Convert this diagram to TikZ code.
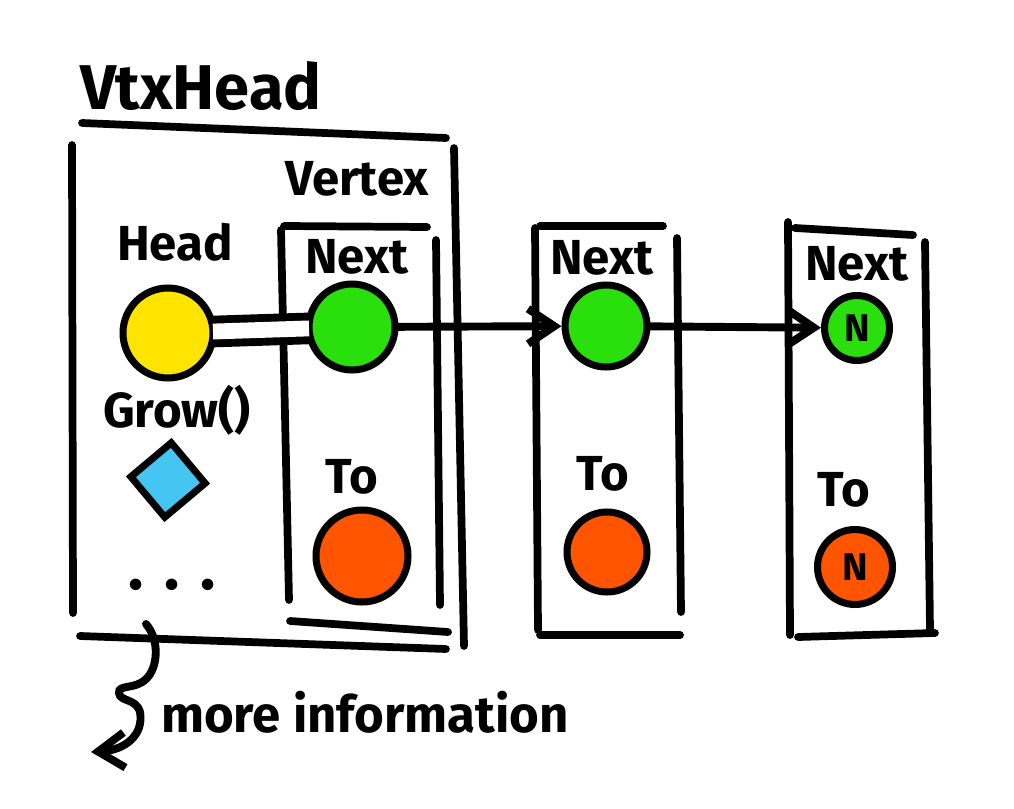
\documentclass[tikz,border=0pt]{standalone}
\usepackage{fontspec}
\setmainfont{Fira Sans}
\usetikzlibrary{arrows.meta,shapes.geometric}
\definecolor{headyellow}{HTML}{FFE400}
\definecolor{nextgreen}{HTML}{2AE00C}
\definecolor{toorange}{HTML}{FF5500}
\definecolor{growblue}{HTML}{45C6F2}
\tikzset{
    box/.style={line width=4.4pt, line cap=round},
    wire/.style={line width=4.5pt, line cap=round},
    ball/.style={circle, draw, line width=4pt, inner sep=0pt,
    	font=\bfseries\fontsize{22}{24}\selectfont}
}
\tikzset{
    title/.style={font=\bfseries\fontsize{36}{40}\selectfont},
    tag/.style={font=\bfseries\fontsize{28}{30}\selectfont},
    info/.style={font=\bfseries\fontsize{29}{31}\selectfont}
}
\tikzset{
    barb/.style={-{Straight Barb[length=15pt, width=20pt]}}
}

\begin{document}
\begin{tikzpicture}[x=0.02cm, y=-0.02cm]
	\useasboundingbox (0,0) rectangle (1014,808);

	% VtxHead box
	\draw[box] (82,123) -- (446,138);
	\draw[box] (72,145) -- (73,613);
	\draw[box] (454,148) -- (464,646);
	\draw[box] (80,636) -- (446,649);
	% Vertex box
	\draw[box] (284,226) -- (427,227);
	\draw[box] (281,230) -- (289,600);
	\draw[box] (436,240) -- (440,605);
	\draw[box] (290,621) -- (448,632);
	% second vertex
	\draw[box] (540,226) -- (663,226);
	\draw[box] (535,228) -- (538,630);
	\draw[box] (677,238) -- (681,612);
	\draw[box] (540,635) -- (680,635);
	% last vertex
	\draw[box] (795,228) -- (913,235);
	\draw[box] (788,222) -- (790,635);
	\draw[box] (925,242) -- (930,630);
	\draw[box] (798,637) -- (935,633);

	\node[title] (vtxhead) at (201,86) {VtxHead};
	\node[tag] (vertextag) at (357,179) {Vertex};
	\node[tag] (headtag) at (175,242) {Head};
	\node[tag] (growtag) at (177,410) {Grow()};
	\node[tag] (nexttaga) at (357,257) {Next};
	\node[tag] (nexttagb) at (602,258) {Next};
	\node[tag] (nexttagc) at (857,264) {Next};
	\node[tag] (totaga) at (352,477) {To};
	\node[tag] (totagb) at (603,474) {To};
	\node[tag] (totagc) at (844,490) {To};

	\node[ball, minimum size=1.8cm, fill=headyellow] (head) at (168,333) {};
	\node[ball, minimum size=1.72cm, fill=nextgreen] (nexta) at (352,327) {};
	\node[ball, minimum size=1.64cm, fill=nextgreen] (nextb) at (606,326) {};
	\node[ball, minimum size=1.3cm, fill=nextgreen] (nextc) at (857,328) {N};
	\node[ball, minimum size=1.84cm, fill=toorange] (toa) at (362,556) {};
	\node[ball, minimum size=1.6cm, fill=toorange] (tob) at (607,552) {};
	\node[ball, minimum size=1.5cm, fill=toorange] (toc) at (855,567) {N};
	\node[diamond, draw, fill=growblue, line width=4pt, inner sep=0pt,
		minimum size=1.55cm, rotate=-5] (grow) at (168,480) {};
	\node[title] (etc) at (172,585) {.\,\,.\,\,.};

	\node[info] (info) at (365,712) {more information};

	\draw[wire, line cap=butt, double, double distance=9pt,
		shorten <=-2pt, shorten >=-2pt] (head) -- (nexta);
	\draw[wire, barb] (nexta) -- (nextb);
	\draw[wire, barb] (nextb) -- (nextc);

	\coordinate (curlstart) at (146,624);
	\coordinate (curlend) at (91,752);
	\draw[wire, barb] (curlstart) .. controls (160,640) and (158,668) .. (146,679)
		.. controls (135,690) and (118,684) .. (119,693)
		.. controls (120,702) and (136,698) .. (140,712)
		.. controls (144,735) and (125,750) .. (curlend);
\end{tikzpicture}
\end{document}
